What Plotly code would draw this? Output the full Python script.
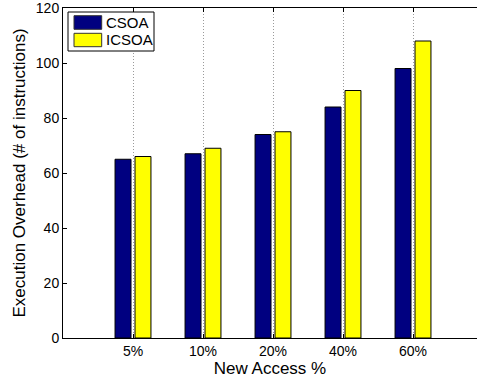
import plotly.graph_objects as go

# Data
categories = ["5%", "10%", "20%", "40%", "60%"]
csoa = [65, 67, 74, 84, 98]
icsoa = [66, 69, 75, 90, 108]
y_ticks = [0, 20, 40, 60, 80, 100, 120]

positions = list(range(1, len(categories) + 1))

W, H = 477, 379
ML, MT, MB, MR = 63, 8, 41, 0
PW, PH = W - ML - MR, H - MT - MB
UNIT_PX = 70  # pixels per category step

FONT = "Liberation Sans, Arial, Helvetica, sans-serif"
NAVY = "#000080"
YELLOW = "#ffff00"

fig = go.Figure()
fig.add_trace(go.Bar(x=positions, y=csoa, name="CSOA", marker=dict(color=NAVY, line=dict(color="black", width=1))))
fig.add_trace(go.Bar(x=positions, y=icsoa, name="ICSOA", marker=dict(color=YELLOW, line=dict(color="black", width=1))))

xmax = PW / UNIT_PX

fig.update_layout(
    width=W, height=H,
    margin=dict(l=ML, r=MR, t=MT, b=MB),
    paper_bgcolor="white", plot_bgcolor="white",
    barmode="group", bargap=0.43, bargroupgap=0.2,
    showlegend=False,
    font=dict(family=FONT, size=14, color="black"),
    xaxis=dict(
        range=[0, xmax], tickmode="array", tickvals=positions, ticktext=categories,
        showline=True, linecolor="black", linewidth=1, mirror=True,
        ticks="inside", ticklen=4, tickcolor="black",
        showgrid=True, gridcolor="#9a9a9a", griddash="1px,2px", gridwidth=1,
        zeroline=False,
        title=dict(text="New Access %", font=dict(size=17), standoff=1),
        tickfont=dict(size=14),
    ),
    xaxis2=dict(
        range=[0, xmax], overlaying="x", side="top", tickmode="array", tickvals=positions,
        showticklabels=False, ticks="inside", ticklen=4, tickcolor="black", showgrid=False,
        showline=False, zeroline=False,
    ),
    yaxis=dict(
        range=[0, 120], tickmode="array", tickvals=y_ticks,
        showline=True, linecolor="black", linewidth=1,
        ticks="inside", ticklen=4, tickcolor="black",
        showgrid=False, zeroline=False, ticklabeloverflow="allow",
        title=dict(text="Execution Overhead (# of instructions)", font=dict(size=17), standoff=5),
        tickfont=dict(size=14),
    ),
)

# invisible trace to activate the top tick axis
fig.add_trace(go.Scatter(x=[positions[0]], y=[0], xaxis="x2", mode="markers",
                         marker=dict(opacity=0), showlegend=False, hoverinfo="skip"))


def px(x):
    return (x - ML) / PW


def py(y):
    return (MT + PH - y) / PH


# Legend box
shapes = [dict(type="rect", xref="paper", yref="paper", x0=px(68), x1=px(154), y0=py(51), y1=py(12),
               line=dict(color="black", width=1), fillcolor="white")]
entries = [("CSOA", NAVY, 15.7, 29.3), ("ICSOA", YELLOW, 33.3, 46.7)]
annotations = []
for name, color, top, bottom in entries:
    shapes.append(dict(type="rect", xref="paper", yref="paper", x0=px(74), x1=px(101.7),
                       y0=py(bottom), y1=py(top), line=dict(color="#333333", width=1), fillcolor=color))
    annotations.append(dict(xref="paper", yref="paper", x=px(103.5), y=py((top + bottom) / 2),
                            text=name, showarrow=False, xanchor="left", yanchor="middle",
                            font=dict(family=FONT, size=15, color="black")))

fig.update_layout(shapes=shapes, annotations=annotations)

fig.write_html("out.html")
